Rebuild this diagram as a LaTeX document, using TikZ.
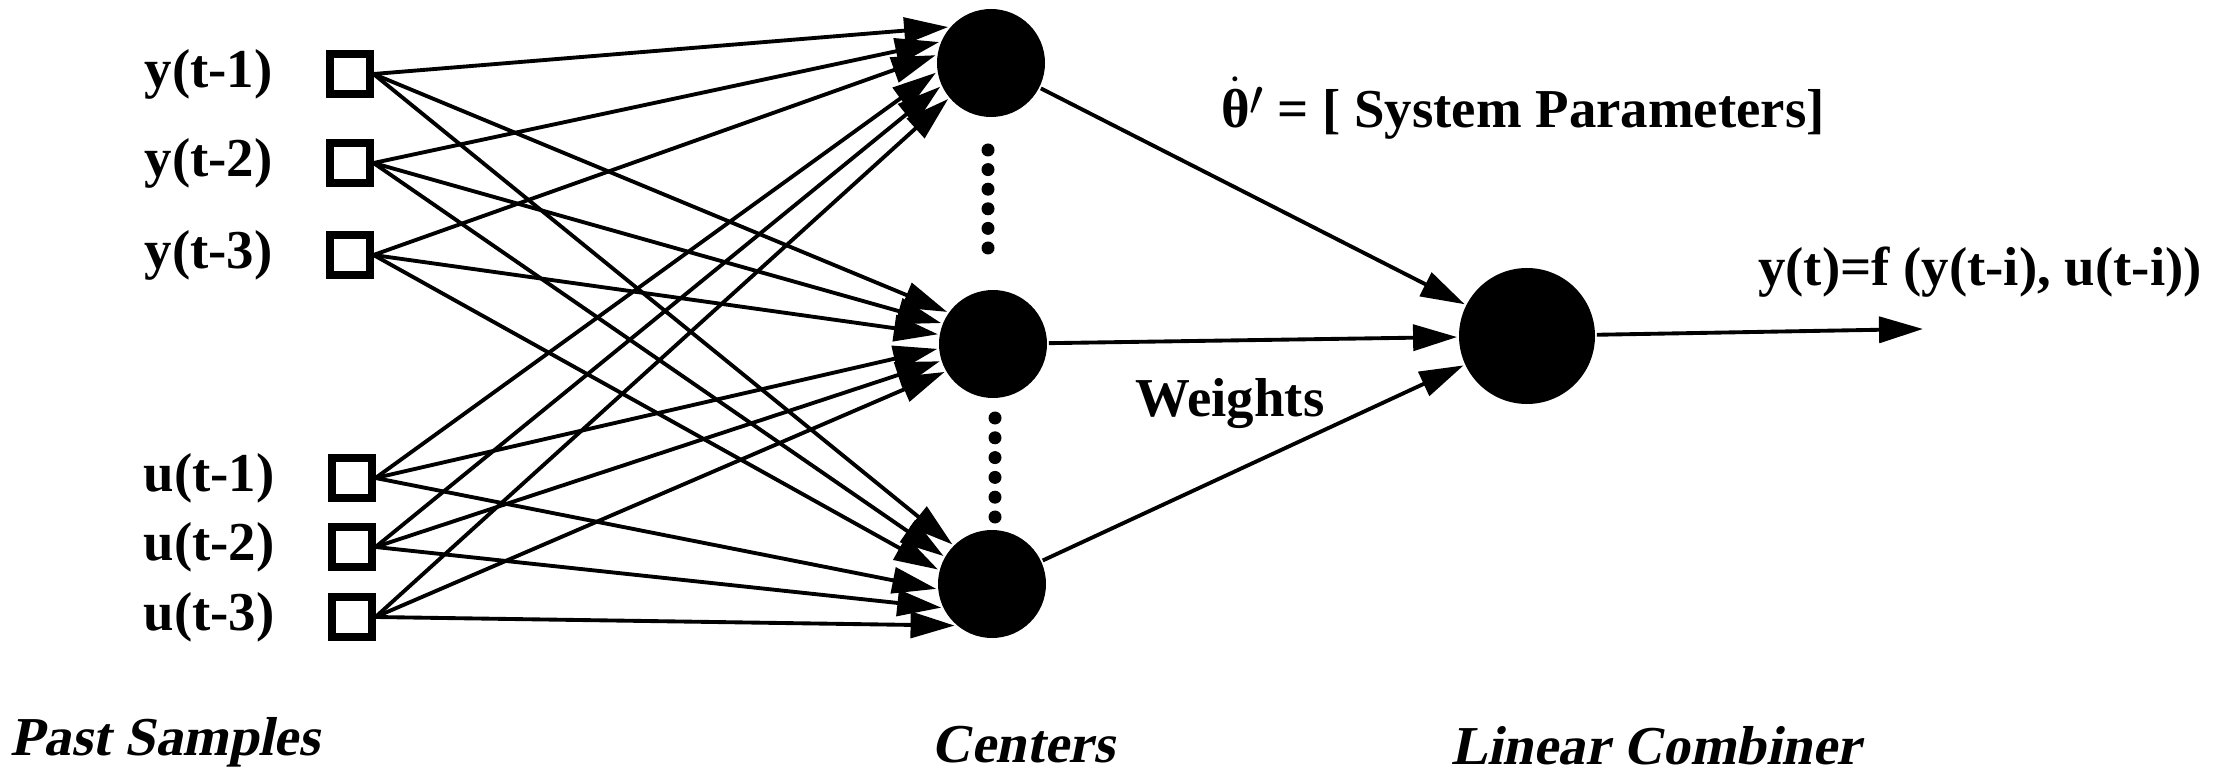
\documentclass[tikz,border=0pt]{standalone}
\usepackage{amsmath}
\usepackage{fontspec}
\setmainfont{Liberation Serif}
\newfontfamily\slantserif{Liberation Serif}[FakeSlant=0.2]
\usetikzlibrary{arrows.meta,positioning}

\begin{document}
\begin{tikzpicture}[
    >={Triangle[length=4.4mm,width=2.6mm]},
    line width=1.1pt,
    font=\bfseries\fontsize{15.6}{18}\selectfont,
    sample/.style={
		rectangle,
		draw=black,
		line width=2pt,
		minimum size=4mm,
		inner sep=0pt
	},
    rbf/.style={
		circle,
		fill=black,
		minimum size=10.8mm,
		inner sep=0pt
	},
    combiner/.style={
		rbf,
		minimum size=13.6mm
	},
    tag/.style={
		inner sep=0pt
	},
    caption/.style={
		inner sep=0pt,
		anchor=base,
		font=\slantserif\bfseries\fontsize{15.6}{18}\selectfont
	}
  ]
  \useasboundingbox (0,0) rectangle (22.22,-7.71);

    % input taps
  \node [sample] (y1) at (3.50,-0.74) {};
  \node [sample] (y2) at (3.50,-1.63) {};
  \node [sample] (y3) at (3.50,-2.55) {};
  \node [sample] (u1) at (3.52,-4.78) {};
  \node [sample] (u2) at (3.52,-5.47) {};
  \node [sample] (u3) at (3.52,-6.17) {};

  \node [tag, left=5.2mm of y1] (ly1) {y(t-1)};
  \node [tag, left=5.2mm of y2] (ly2) {y(t-2)};
  \node [tag, left=5.2mm of y3] (ly3) {y(t-3)};
  \node [tag, left=5.2mm of u1] (lu1) {u(t-1)};
  \node [tag, left=5.2mm of u2] (lu2) {u(t-2)};
  \node [tag, left=5.2mm of u3] (lu3) {u(t-3)};

    % hidden layer and output unit
  \node [rbf] (c1) at (9.91,-0.63) {};
  \node [rbf] (c2) at (9.93,-3.44) {};
  \node [rbf] (c3) at (9.92,-5.84) {};
  \node [combiner] (comb) at (15.27,-3.36) {};
  \coordinate (out) at (19.23,-3.29);

  \foreach \k in {0,...,5} {
    \fill (9.88,{-1.50-0.196*\k}) circle (0.065);
    \fill (9.95,{-4.18-0.198*\k}) circle (0.065);
  }

    % full connection, each tap to every center
  \foreach \src/\a/\b/\c in {y1/140/145/135, y2/158/158/150, y3/172/170/165,
                             u1/190/185/185, u2/205/198/205, u3/220/210/228} {
    \draw [->] (\src.east) -- (c1.\a);
    \draw [->] (\src.east) -- (c2.\b);
    \draw [->] (\src.east) -- (c3.\c);
  }

  \draw [->] (c1) -- (comb);
  \draw [->] (c2) -- (comb);
  \draw [->] (c3) -- (comb);
  \draw [->] (comb) -- (out);

    % texts
  \node [tag] (theta) at (15.23,-1.08)
    {$\dot{\text{θ}}$\raisebox{0.22em}{$\prime$} = [ System Parameters]};
  \node [tag] (weights) at (12.30,-4.04) {Weights};
  \node [tag] (fout) at (19.80,-2.72) {y(t)=f (y(t-i), u(t-i))};

  \node [caption] (cap1) at (1.65,-7.55) {Past Samples};
  \node [caption] (cap2) at (10.23,-7.62) {Centers};
  \node [caption] (cap3) at (16.56,-7.64) {Linear Combiner};

\end{tikzpicture}
\end{document}
